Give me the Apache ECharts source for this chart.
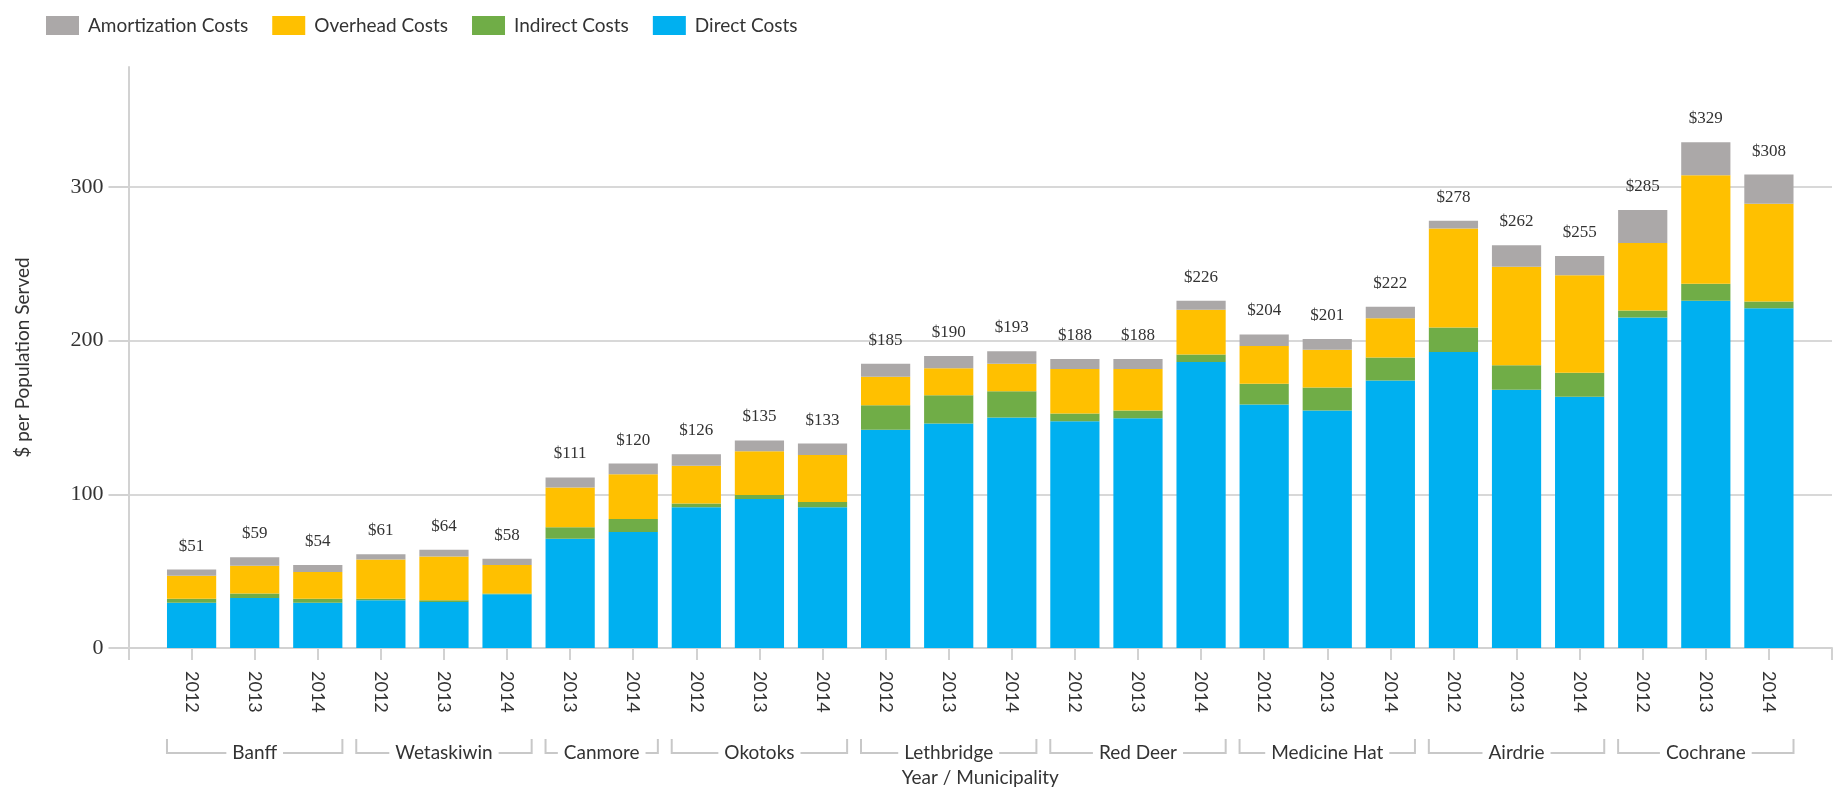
<!DOCTYPE html>
<html><head><meta charset="utf-8">
<script src="https://cdn.jsdelivr.net/npm/echarts@6/dist/echarts.min.js"></script>
<style>html,body{margin:0;padding:0;background:#fff}#c{width:1833px;height:792px}</style>
</head><body><div id="c"></div>
<script>
// ---- data ----
const municipalities = ['Banff','Wetaskiwin','Canmore','Okotoks','Lethbridge','Red Deer','Medicine Hat','Airdrie','Cochrane'];
const groupSizes = [3,3,2,3,3,3,3,3,3];
const years = ['2012','2013','2014','2012','2013','2014','2013','2014','2012','2013','2014','2012','2013','2014','2012','2013','2014','2012','2013','2014','2012','2013','2014','2012','2013','2014'];
const directCosts =       [29.5,32.5,29.5,31,30,35,71,75.5,91.5,97,91.5,142,146,150,147.5,149.5,186,158.5,154.5,174,192.5,168,163.5,215,226,221];
const indirectCosts =     [2.5,3,2.5,1,1,0.5,7.5,8.5,2.5,2.5,3.5,16,18.5,17,5,5,5,13.5,15,15,16,16,15.5,4.5,11,4.5];
const overheadCosts =     [15,18,17.5,25.5,28.5,18.5,26,29,24.5,28.5,30.5,18.5,17.5,18,29,27,29,24.5,24.5,25.5,64.5,64,63.5,44,70.5,63.5];
const amortizationCosts = [4,5.5,4.5,3.5,4.5,4,6.5,7,7.5,7,7.5,8.5,8,8,6.5,6.5,6,7.5,7,7.5,5,14,12.5,21.5,21.5,19];
const totals =            [51,59,54,61,64,58,111,120,126,135,133,185,190,193,188,188,226,204,201,222,278,262,255,285,329,308];
const yTicks = [0,100,200,300];

// ---- build ----
const pad = a => [null, ...a, null];
const cats = ['', ...years, ''];
const groupRanges = [];
let idx = 1;
groupSizes.forEach(n => { groupRanges.push([idx, idx + n - 1]); idx += n; });

const SANS = 'Lato, "Liberation Sans", sans-serif';
const SERIF = '"Liberation Serif", "DejaVu Serif", serif';
const TXT = '#333';
const barW = '78%';

const chart = echarts.init(document.getElementById('c'));
chart.setOption({
  animation: false,
  backgroundColor: '#fff',
  legend: {
    data: ['Amortization Costs','Overhead Costs','Indirect Costs','Direct Costs'],
    left: 41, top: 11, icon: 'rect', itemWidth: 33, itemHeight: 19, itemGap: 24,
    textStyle: { fontFamily: SANS, fontSize: 19, color: TXT, padding: [0,0,0,4] }
  },
  grid: { left: 128.5, right: 1, top: 67, bottom: 141.5, containLabel: false },
  xAxis: {
    type: 'category', data: cats, boundaryGap: false,
    name: 'Year / Municipality', nameLocation: 'middle', nameGap: 120,
    nameTextStyle: { fontFamily: SANS, fontSize: 19, color: TXT },
    axisLine: { lineStyle: { color: '#d2d2d2', width: 2 } },
    axisTick: { show: true, length: 12, interval: 0, lineStyle: { color: '#d2d2d2', width: 2 } },
    axisLabel: { rotate: -90, interval: 0, margin: 23, fontFamily: SANS, fontSize: 18, color: TXT },
    splitLine: { show: false }
  },
  yAxis: {
    type: 'value', min: 0, max: 378, interval: 100,
    name: '$ per Population Served', nameLocation: 'middle', nameRotate: 90, nameGap: 96,
    nameTextStyle: { fontFamily: SANS, fontSize: 19, color: TXT },
    axisLine: { show: true, lineStyle: { color: '#d2d2d2', width: 2 } },
    axisTick: { show: true, length: 20, customValues: yTicks, lineStyle: { color: '#d2d2d2', width: 2 } },
    axisLabel: { customValues: yTicks, margin: 25, fontFamily: SERIF, fontSize: 22, color: TXT },
    splitLine: { show: true, showMinLine: false, lineStyle: { color: '#d8d8d8', width: 2 } }
  },
  series: [
    { name: 'Direct Costs', type: 'bar', stack: 'c', barWidth: barW, data: pad(directCosts), itemStyle: { color: '#00b0f0' } },
    { name: 'Indirect Costs', type: 'bar', stack: 'c', barWidth: barW, data: pad(indirectCosts), itemStyle: { color: '#70ad47' } },
    { name: 'Overhead Costs', type: 'bar', stack: 'c', barWidth: barW, data: pad(overheadCosts), itemStyle: { color: '#ffc000' } },
    { name: 'Amortization Costs', type: 'bar', stack: 'c', barWidth: barW, data: pad(amortizationCosts), itemStyle: { color: '#aba8a8' },
      label: { show: true, position: 'top', distance: 15, fontFamily: SERIF, fontSize: 17, color: TXT,
        formatter: p => '$' + totals[p.dataIndex - 1] } },
    { name: 'groups', type: 'custom', clip: false, silent: true, data: groupRanges,
      renderItem: function (params, api) {
        const s = api.value(0), e = api.value(1);
        const hb = api.size([1, 0])[0] * 0.39;
        const p0 = api.coord([s, 0]);
        const x0 = p0[0] - hb, x1 = api.coord([e, 0])[0] + hb;
        const yTop = p0[1] + 91, yBot = p0[1] + 105;
        return { type: 'group', children: [
          { type: 'polyline', shape: { points: [[x0, yTop], [x0, yBot], [x1, yBot], [x1, yTop]] },
            style: { stroke: '#c8c8c8', lineWidth: 2, fill: null } },
          { type: 'text', style: { text: municipalities[params.dataIndex], x: (x0 + x1) / 2, y: yBot,
            align: 'center', verticalAlign: 'middle', font: '19px ' + SANS, fill: TXT,
            backgroundColor: '#fff', padding: [0, 6] } }
        ]};
      } }
  ]
});
</script></body></html>
